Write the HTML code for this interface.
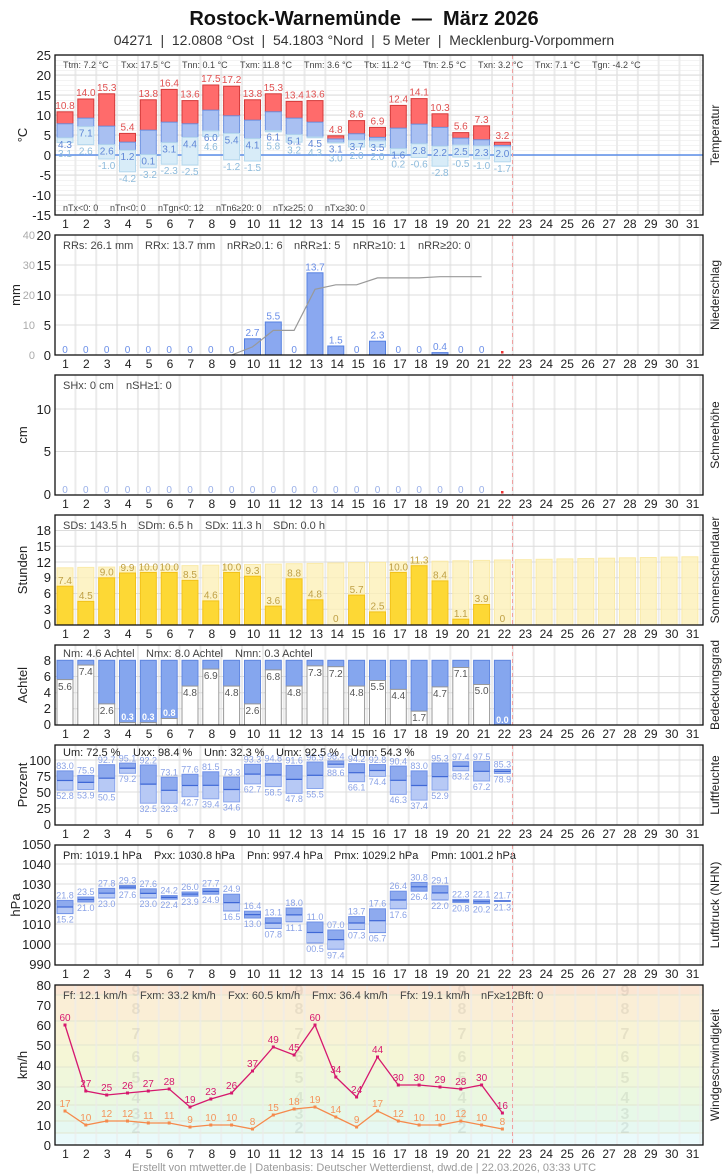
<!DOCTYPE html>
<html><head><meta charset="utf-8"><style>
body{margin:0;background:#fff;width:728px;height:1175px;position:relative;overflow:hidden;font-family:"Liberation Sans",sans-serif}
svg{position:absolute;left:0;top:0}
.days{position:absolute;left:55px;width:648px;display:flex;font-size:12px;line-height:14px;color:#222}
.days span{flex:1;text-align:center}
</style></head><body>
<svg width="728" height="1175" viewBox="0 0 728 1175" font-family="Liberation Sans, sans-serif">
<defs>
<pattern id="vg" patternUnits="userSpaceOnUse" x="53.6" y="0" width="20.83" height="20"><rect x="0" y="0" width="2" height="20" fill="#ebebeb"/></pattern>
<pattern id="hm" patternUnits="userSpaceOnUse" x="0" y="0" width="20" height="5"><rect x="0" y="0" width="20" height="1" fill="#f3f3f3"/></pattern>
</defs>
<text x="364" y="25" text-anchor="middle" font-size="20" font-weight="bold" fill="#111">Rostock-Warnemünde&#160;&#160;—&#160;&#160;März 2026</text>
<text x="364" y="45" text-anchor="middle" font-size="14" fill="#333">04271&#160;&#160;|&#160;&#160;12.0808 °Ost&#160;&#160;|&#160;&#160;54.1803 °Nord&#160;&#160;|&#160;&#160;5 Meter&#160;&#160;|&#160;&#160;Mecklenburg-Vorpommern</text>

<!-- TEMPERATURE 55-215 -->
<rect x="55" y="55" width="648" height="160" fill="url(#hm)"/>
<rect x="55" y="55" width="648" height="160" fill="url(#vg)"/>
<g stroke="#dcdcdc" stroke-width="1"><line x1="55" x2="703" y1="75" y2="75"/><line x1="55" x2="703" y1="95" y2="95"/><line x1="55" x2="703" y1="115" y2="115"/><line x1="55" x2="703" y1="135" y2="135"/><line x1="55" x2="703" y1="175" y2="175"/><line x1="55" x2="703" y1="195" y2="195"/></g>
<line x1="55" x2="703" y1="155" y2="155" stroke="#5b8de8" stroke-width="1.5"/>
<g stroke-width="1">
<g fill="#ff6b6b" stroke="#d43a3a">
<rect x="57" y="111.8" width="16" height="12"/><rect x="77.8" y="99" width="16" height="19.2"/><rect x="98.7" y="93.8" width="16" height="32.4"/><rect x="119.5" y="133.4" width="16" height="8.8"/><rect x="140.3" y="99.8" width="16" height="30.4"/><rect x="161.2" y="89.4" width="16" height="32.8"/><rect x="182" y="100.6" width="16" height="23.2"/><rect x="202.8" y="85" width="16" height="25.2"/><rect x="223.6" y="86.2" width="16" height="29.6"/><rect x="244.5" y="99.8" width="16" height="20.4"/><rect x="265.3" y="93.8" width="16" height="18"/><rect x="286.1" y="101.4" width="16" height="16.8"/><rect x="307" y="100.6" width="16" height="21.6"/><rect x="327.8" y="135.8" width="16" height="3.2"/><rect x="348.6" y="120.6" width="16" height="13.2"/><rect x="369.5" y="127.4" width="16" height="10"/><rect x="390.3" y="105.4" width="16" height="22.8"/><rect x="411.1" y="98.6" width="16" height="25.6"/><rect x="432" y="113.8" width="16" height="13.6"/><rect x="452.8" y="132.6" width="16" height="5.6"/><rect x="473.6" y="125.8" width="16" height="14"/><rect x="494.4" y="142.2" width="16" height="3.2"/>
</g>
<g fill="#a9c0f2" stroke="#6f93e0">
<rect x="57" y="123.8" width="16" height="14"/><rect x="77.8" y="118.2" width="16" height="8.4"/><rect x="98.7" y="126.2" width="16" height="18.4"/><rect x="119.5" y="142.2" width="16" height="8"/><rect x="140.3" y="130.2" width="16" height="24.4"/><rect x="161.2" y="122.2" width="16" height="20.4"/><rect x="182" y="123.8" width="16" height="13.6"/><rect x="202.8" y="110.2" width="16" height="20.8"/><rect x="223.6" y="115.8" width="16" height="17.6"/><rect x="244.5" y="120.2" width="16" height="18.4"/><rect x="265.3" y="111.8" width="16" height="18.8"/><rect x="286.1" y="118.2" width="16" height="16.4"/><rect x="307" y="122.2" width="16" height="14.8"/><rect x="327.8" y="139" width="16" height="3.6"/><rect x="348.6" y="133.8" width="16" height="6.4"/><rect x="369.5" y="137.4" width="16" height="3.6"/><rect x="390.3" y="128.2" width="16" height="20.4"/><rect x="411.1" y="124.2" width="16" height="19.6"/><rect x="432" y="127.4" width="16" height="18.8"/><rect x="452.8" y="138.2" width="16" height="6.8"/><rect x="473.6" y="139.8" width="16" height="6"/><rect x="494.4" y="145.4" width="16" height="1.6"/>
</g>
<g fill="#d8ecf8" stroke="#b5d8ee">
<rect x="57" y="137.8" width="16" height="4.8"/><rect x="77.8" y="126.6" width="16" height="18"/><rect x="98.7" y="144.6" width="16" height="14.4"/><rect x="119.5" y="150.2" width="16" height="21.6"/><rect x="140.3" y="154.6" width="16" height="13.2"/><rect x="161.2" y="142.6" width="16" height="21.6"/><rect x="182" y="137.4" width="16" height="27.6"/><rect x="202.8" y="131" width="16" height="5.6"/><rect x="223.6" y="133.4" width="16" height="26.4"/><rect x="244.5" y="138.6" width="16" height="22.4"/><rect x="265.3" y="130.6" width="16" height="1.2"/><rect x="286.1" y="134.6" width="16" height="7.6"/><rect x="307" y="137" width="16" height="0.8"/><rect x="327.8" y="142.6" width="16" height="0.4"/><rect x="348.6" y="140.2" width="16" height="6.8"/><rect x="369.5" y="141" width="16" height="6"/><rect x="390.3" y="148.6" width="16" height="5.6"/><rect x="411.1" y="143.8" width="16" height="13.6"/><rect x="432" y="146.2" width="16" height="20"/><rect x="452.8" y="145" width="16" height="12"/><rect x="473.6" y="145.8" width="16" height="13.2"/><rect x="494.4" y="147" width="16" height="14.8"/>
</g>
</g>
<g font-size="10" text-anchor="middle" fill="#e05050">
<text x="65" y="108.8">10.8</text><text x="85.8" y="96">14.0</text><text x="106.7" y="90.8">15.3</text><text x="127.5" y="130.4">5.4</text><text x="148.3" y="96.8">13.8</text><text x="169.2" y="86.4">16.4</text><text x="190" y="97.6">13.6</text><text x="210.8" y="82">17.5</text><text x="231.6" y="83.2">17.2</text><text x="252.5" y="96.8">13.8</text><text x="273.3" y="90.8">15.3</text><text x="294.1" y="98.4">13.4</text><text x="315" y="97.6">13.6</text><text x="335.8" y="132.8">4.8</text><text x="356.6" y="117.6">8.6</text><text x="377.5" y="124.4">6.9</text><text x="398.3" y="102.4">12.4</text><text x="419.1" y="95.6">14.1</text><text x="440" y="110.8">10.3</text><text x="460.8" y="129.6">5.6</text><text x="481.6" y="122.8">7.3</text><text x="502.4" y="139.2">3.2</text>
</g>
<g font-size="10" text-anchor="middle" fill="#5f86d6">
<text x="65" y="147.8">4.3</text><text x="85.8" y="136.6">7.1</text><text x="106.7" y="154.6">2.6</text><text x="127.5" y="160.2">1.2</text><text x="148.3" y="164.6">0.1</text><text x="169.2" y="152.6">3.1</text><text x="190" y="147.4">4.4</text><text x="210.8" y="141">6.0</text><text x="231.6" y="143.4">5.4</text><text x="252.5" y="148.6">4.1</text><text x="273.3" y="140.6">6.1</text><text x="294.1" y="144.6">5.1</text><text x="315" y="147">4.5</text><text x="335.8" y="152.6">3.1</text><text x="356.6" y="150.2">3.7</text><text x="377.5" y="151">3.5</text><text x="398.3" y="158.6">1.6</text><text x="419.1" y="153.8">2.8</text><text x="440" y="156.2">2.2</text><text x="460.8" y="155">2.5</text><text x="481.6" y="155.8">2.3</text><text x="502.4" y="157">2.0</text>
</g>
<g font-size="10" text-anchor="middle" fill="#8dbbdc">
<text x="65" y="156.8">3.1</text><text x="85.8" y="154.6">2.6</text><text x="106.7" y="169">-1.0</text><text x="127.5" y="181.8">-4.2</text><text x="148.3" y="177.8">-3.2</text><text x="169.2" y="174.2">-2.3</text><text x="190" y="175">-2.5</text><text x="210.8" y="150">4.6</text><text x="231.6" y="169.8">-1.2</text><text x="252.5" y="171">-1.5</text><text x="273.3" y="149.6">5.8</text><text x="294.1" y="153.6">3.2</text><text x="315" y="156">4.3</text><text x="335.8" y="161.6">3.0</text><text x="356.6" y="159.2">2.0</text><text x="377.5" y="160">2.0</text><text x="398.3" y="167.6">0.2</text><text x="419.1" y="167.4">-0.6</text><text x="440" y="176.2">-2.8</text><text x="460.8" y="167">-0.5</text><text x="481.6" y="169">-1.0</text><text x="502.4" y="171.8">-1.7</text>
</g>
<g font-size="9" fill="#444">
<text x="63" y="68">Ttm: 7.2 °C</text><text x="121" y="68">Txx: 17.5 °C</text><text x="182" y="68">Tnn: 0.1 °C</text><text x="240" y="68">Txm: 11.8 °C</text><text x="304" y="68">Tnm: 3.6 °C</text><text x="364" y="68">Ttx: 11.2 °C</text><text x="423" y="68">Ttn: 2.5 °C</text><text x="478" y="68">Txn: 3.2 °C</text><text x="535" y="68">Tnx: 7.1 °C</text><text x="592" y="68">Tgn: -4.2 °C</text>
<text x="63" y="211">nTx&lt;0: 0</text><text x="110" y="211">nTn&lt;0: 0</text><text x="158" y="211">nTgn&lt;0: 12</text><text x="216" y="211">nTn6≥20: 0</text><text x="273" y="211">nTx≥25: 0</text><text x="325" y="211">nTx≥30: 0</text>
</g>
<g font-size="13" text-anchor="end" fill="#222">
<text x="51" y="60">25</text><text x="51" y="80">20</text><text x="51" y="100">15</text><text x="51" y="120">10</text><text x="51" y="140">5</text><text x="51" y="160">0</text><text x="51" y="180">-5</text><text x="51" y="200">-10</text><text x="51" y="220">-15</text>
</g>

<!-- PRECIP 235-355 -->
<rect x="55" y="235" width="648" height="120" fill="url(#vg)"/>
<g stroke="#dcdcdc"><line x1="55" x2="703" y1="265" y2="265"/><line x1="55" x2="703" y1="295" y2="295"/><line x1="55" x2="703" y1="325" y2="325"/></g>
<g fill="#8aa8f0" stroke="#5580e0">
<rect x="244.5" y="338.8" width="16" height="16.2"/><rect x="265.3" y="322" width="16" height="33"/><rect x="307" y="272.8" width="16" height="82.2"/><rect x="327.8" y="346" width="16" height="9"/><rect x="369.5" y="341.2" width="16" height="13.8"/><rect x="432" y="352.6" width="16" height="2.4"/>
</g>
<polyline fill="none" stroke="#999" stroke-width="1.2" points="231.6,355 252.5,346.9 273.3,330.4 294.1,330.4 315,289.3 335.8,284.8 356.6,284.8 377.5,277.9 398.3,277.9 419.1,277.9 440,276.7 460.8,276.7 481.6,276.7"/>
<rect x="501" y="351" width="2.5" height="2.5" fill="#e33"/>
<g font-size="10" text-anchor="middle" fill="#6b8fe8">
<text x="65" y="353">0</text><text x="85.8" y="353">0</text><text x="106.7" y="353">0</text><text x="127.5" y="353">0</text><text x="148.3" y="353">0</text><text x="169.2" y="353">0</text><text x="190" y="353">0</text><text x="210.8" y="353">0</text><text x="231.6" y="353">0</text><text x="294.1" y="353">0</text><text x="356.6" y="353">0</text><text x="398.3" y="353">0</text><text x="419.1" y="353">0</text><text x="460.8" y="353">0</text><text x="481.6" y="353">0</text>
<text x="252.5" y="336">2.7</text><text x="273.3" y="319.5">5.5</text><text x="315" y="270.5">13.7</text><text x="335.8" y="343.5">1.5</text><text x="377.5" y="338.5">2.3</text><text x="440" y="350">0.4</text>
</g>
<g font-size="11" fill="#444"><text x="63" y="249">RRs: 26.1 mm</text><text x="145" y="249">RRx: 13.7 mm</text><text x="227" y="249">nRR≥0.1: 6</text><text x="294" y="249">nRR≥1: 5</text><text x="353" y="249">nRR≥10: 1</text><text x="418" y="249">nRR≥20: 0</text></g>
<g font-size="13" text-anchor="end" fill="#222"><text x="51" y="240">20</text><text x="51" y="270">15</text><text x="51" y="300">10</text><text x="51" y="330">5</text><text x="51" y="360">0</text></g>
<g font-size="11" text-anchor="end" fill="#aaa"><text x="35" y="239">40</text><text x="35" y="269">30</text><text x="35" y="299">20</text><text x="35" y="329">10</text><text x="35" y="359">0</text></g>

<!-- SNOW 375-495 -->
<rect x="55" y="375" width="648" height="120" fill="url(#vg)"/>
<g stroke="#dcdcdc"><line x1="55" x2="703" y1="409" y2="409"/><line x1="55" x2="703" y1="451.5" y2="451.5"/></g>
<g font-size="10" text-anchor="middle" fill="#9ab0e8">
<text x="65" y="493">0</text><text x="85.8" y="493">0</text><text x="106.7" y="493">0</text><text x="127.5" y="493">0</text><text x="148.3" y="493">0</text><text x="169.2" y="493">0</text><text x="190" y="493">0</text><text x="210.8" y="493">0</text><text x="231.6" y="493">0</text><text x="252.5" y="493">0</text><text x="273.3" y="493">0</text><text x="294.1" y="493">0</text><text x="315" y="493">0</text><text x="335.8" y="493">0</text><text x="356.6" y="493">0</text><text x="377.5" y="493">0</text><text x="398.3" y="493">0</text><text x="419.1" y="493">0</text><text x="440" y="493">0</text><text x="460.8" y="493">0</text><text x="481.6" y="493">0</text>
</g>
<rect x="501" y="491" width="2.5" height="2.5" fill="#e33"/>
<g font-size="11" fill="#444"><text x="63" y="389">SHx: 0 cm</text><text x="126" y="389">nSH≥1: 0</text></g>
<g font-size="13" text-anchor="end" fill="#222"><text x="51" y="414">10</text><text x="51" y="456">5</text><text x="51" y="499">0</text></g>

<!-- SUN 515-625 -->
<rect x="55" y="515" width="648" height="110" fill="url(#vg)"/>
<g stroke="#dcdcdc"><line x1="55" x2="703" y1="530.5" y2="530.5"/><line x1="55" x2="703" y1="546.3" y2="546.3"/><line x1="55" x2="703" y1="562" y2="562"/><line x1="55" x2="703" y1="577.8" y2="577.8"/><line x1="55" x2="703" y1="593.5" y2="593.5"/><line x1="55" x2="703" y1="609.3" y2="609.3"/></g>
<g fill="#fdf0b8" fill-opacity="0.8" stroke="#faeaa8">
<rect x="57" y="567.8" width="16" height="57.2"/><rect x="77.8" y="567.4" width="16" height="57.6"/><rect x="98.7" y="567.1" width="16" height="57.9"/><rect x="119.5" y="566.7" width="16" height="58.3"/><rect x="140.3" y="566.3" width="16" height="58.7"/><rect x="161.2" y="565.9" width="16" height="59.1"/><rect x="182" y="565.6" width="16" height="59.4"/><rect x="202.8" y="565.2" width="16" height="59.8"/><rect x="223.6" y="564.8" width="16" height="60.2"/><rect x="244.5" y="564.5" width="16" height="60.5"/><rect x="265.3" y="564.1" width="16" height="60.9"/><rect x="286.1" y="563.7" width="16" height="61.3"/><rect x="307" y="563.4" width="16" height="61.6"/><rect x="327.8" y="563" width="16" height="62"/><rect x="348.6" y="562.6" width="16" height="62.4"/><rect x="369.5" y="562.3" width="16" height="62.7"/><rect x="390.3" y="561.9" width="16" height="63.1"/><rect x="411.1" y="561.5" width="16" height="63.5"/><rect x="432" y="561.2" width="16" height="63.8"/><rect x="452.8" y="560.8" width="16" height="64.2"/><rect x="473.6" y="560.4" width="16" height="64.6"/><rect x="494.4" y="560" width="16" height="65"/><rect x="515.3" y="559.7" width="16" height="65.3"/><rect x="536.1" y="559.3" width="16" height="65.7"/><rect x="556.9" y="558.9" width="16" height="66.1"/><rect x="577.8" y="558.6" width="16" height="66.4"/><rect x="598.6" y="558.2" width="16" height="66.8"/><rect x="619.4" y="557.8" width="16" height="67.2"/><rect x="640.3" y="557.5" width="16" height="67.5"/><rect x="661.1" y="557.1" width="16" height="67.9"/><rect x="681.9" y="556.8" width="16" height="68.2"/>
</g>
<g fill="#fdd835" stroke="#f2c21a">
<rect x="57" y="586.2" width="16" height="38.8"/><rect x="77.8" y="601.4" width="16" height="23.6"/><rect x="98.7" y="577.8" width="16" height="47.2"/><rect x="119.5" y="573" width="16" height="52"/><rect x="140.3" y="572.5" width="16" height="52.5"/><rect x="161.2" y="572.5" width="16" height="52.5"/><rect x="182" y="580.4" width="16" height="44.6"/><rect x="202.8" y="600.9" width="16" height="24.1"/><rect x="223.6" y="572.5" width="16" height="52.5"/><rect x="244.5" y="576.2" width="16" height="48.8"/><rect x="265.3" y="606.1" width="16" height="18.9"/><rect x="286.1" y="578.8" width="16" height="46.2"/><rect x="307" y="599.8" width="16" height="25.2"/><rect x="348.6" y="595.1" width="16" height="29.9"/><rect x="369.5" y="611.9" width="16" height="13.1"/><rect x="390.3" y="572.5" width="16" height="52.5"/><rect x="411.1" y="565.7" width="16" height="59.3"/><rect x="432" y="580.9" width="16" height="44.1"/><rect x="452.8" y="619.2" width="16" height="5.8"/><rect x="473.6" y="604.5" width="16" height="20.5"/>
</g>
<g font-size="10" text-anchor="middle" fill="#bfa045">
<text x="65" y="584">7.4</text><text x="85.8" y="599">4.5</text><text x="106.7" y="575.5">9.0</text><text x="127.5" y="571">9.9</text><text x="148.3" y="570.5">10.0</text><text x="169.2" y="570.5">10.0</text><text x="190" y="578">8.5</text><text x="210.8" y="598.5">4.6</text><text x="231.6" y="570.5">10.0</text><text x="252.5" y="574">9.3</text><text x="273.3" y="604">3.6</text><text x="294.1" y="576.5">8.8</text><text x="315" y="597.5">4.8</text><text x="335.8" y="622">0</text><text x="356.6" y="593">5.7</text><text x="377.5" y="609.5">2.5</text><text x="398.3" y="570.5">10.0</text><text x="419.1" y="563.5">11.3</text><text x="440" y="578.5">8.4</text><text x="460.8" y="617">1.1</text><text x="481.6" y="602">3.9</text><text x="502.4" y="622">0</text>
</g>
<g font-size="11" fill="#444"><text x="63" y="529">SDs: 143.5 h</text><text x="138" y="529">SDm: 6.5 h</text><text x="205" y="529">SDx: 11.3 h</text><text x="273" y="529">SDn: 0.0 h</text></g>
<g font-size="13" text-anchor="end" fill="#222"><text x="51" y="535">18</text><text x="51" y="551">15</text><text x="51" y="567">12</text><text x="51" y="582">9</text><text x="51" y="598">6</text><text x="51" y="614">3</text><text x="51" y="629">0</text></g>

<!-- CLOUD 645-725 -->
<rect x="55" y="645" width="648" height="80" fill="url(#vg)"/>
<g stroke="#dcdcdc"><line x1="55" x2="703" y1="676.5" y2="676.5"/><line x1="55" x2="703" y1="692.7" y2="692.7"/><line x1="55" x2="703" y1="708.8" y2="708.8"/></g>
<g fill="#85a6ee" stroke="#5f86e0">
<rect x="57" y="660.3" width="16" height="19.3"/><rect x="77.8" y="660.3" width="16" height="4.8"/><rect x="98.7" y="660.3" width="16" height="43.6"/><rect x="119.5" y="660.3" width="16" height="62.3"/><rect x="140.3" y="660.3" width="16" height="62.3"/><rect x="161.2" y="660.3" width="16" height="58.2"/><rect x="182" y="660.3" width="16" height="25.8"/><rect x="202.8" y="660.3" width="16" height="8.8"/><rect x="223.6" y="660.3" width="16" height="25.8"/><rect x="244.5" y="660.3" width="16" height="43.6"/><rect x="265.3" y="660.3" width="16" height="9.6"/><rect x="286.1" y="660.3" width="16" height="25.8"/><rect x="307" y="660.3" width="16" height="5.6"/><rect x="327.8" y="660.3" width="16" height="6.4"/><rect x="348.6" y="660.3" width="16" height="25.8"/><rect x="369.5" y="660.3" width="16" height="20.2"/><rect x="390.3" y="660.3" width="16" height="29.1"/><rect x="411.1" y="660.3" width="16" height="50.9"/><rect x="432" y="660.3" width="16" height="26.6"/><rect x="452.8" y="660.3" width="16" height="7.2"/><rect x="473.6" y="660.3" width="16" height="24.2"/><rect x="494.4" y="660.3" width="16" height="64.7"/>
</g>
<g fill="#fff" stroke="#999">
<rect x="57" y="679.6" width="16" height="45.4"/><rect x="77.8" y="665.1" width="16" height="59.9"/><rect x="98.7" y="703.9" width="16" height="21.1"/><rect x="119.5" y="722.6" width="16" height="2.4"/><rect x="140.3" y="722.6" width="16" height="2.4"/><rect x="161.2" y="718.5" width="16" height="6.5"/><rect x="182" y="686.1" width="16" height="38.9"/><rect x="202.8" y="669.1" width="16" height="55.9"/><rect x="223.6" y="686.1" width="16" height="38.9"/><rect x="244.5" y="703.9" width="16" height="21.1"/><rect x="265.3" y="669.9" width="16" height="55.1"/><rect x="286.1" y="686.1" width="16" height="38.9"/><rect x="307" y="665.9" width="16" height="59.1"/><rect x="327.8" y="666.7" width="16" height="58.3"/><rect x="348.6" y="686.1" width="16" height="38.9"/><rect x="369.5" y="680.5" width="16" height="44.5"/><rect x="390.3" y="689.4" width="16" height="35.6"/><rect x="411.1" y="711.2" width="16" height="13.8"/><rect x="432" y="686.9" width="16" height="38.1"/><rect x="452.8" y="667.5" width="16" height="57.5"/><rect x="473.6" y="684.5" width="16" height="40.5"/>
</g>
<g font-size="10" text-anchor="middle" fill="#555">
<text x="65" y="690">5.6</text><text x="85.8" y="675">7.4</text><text x="106.7" y="714">2.6</text><text x="190" y="696">4.8</text><text x="210.8" y="679">6.9</text><text x="231.6" y="696">4.8</text><text x="252.5" y="714">2.6</text><text x="273.3" y="680">6.8</text><text x="294.1" y="696">4.8</text><text x="315" y="676">7.3</text><text x="335.8" y="677">7.2</text><text x="356.6" y="696">4.8</text><text x="377.5" y="690">5.5</text><text x="398.3" y="699">4.4</text><text x="419.1" y="721">1.7</text><text x="440" y="697">4.7</text><text x="460.8" y="677">7.1</text><text x="481.6" y="694">5.0</text>
</g>
<g font-size="9" font-weight="bold" text-anchor="middle" fill="#fff"><text x="127.5" y="720">0.3</text><text x="148.3" y="720">0.3</text><text x="169.2" y="716">0.8</text><text x="502.4" y="723">0.0</text></g>
<g font-size="11" fill="#444"><text x="63" y="657">Nm: 4.6 Achtel</text><text x="146" y="657">Nmx: 8.0 Achtel</text><text x="235" y="657">Nmn: 0.3 Achtel</text></g>
<g font-size="13" text-anchor="end" fill="#222"><text x="51" y="665">8</text><text x="51" y="681">6</text><text x="51" y="697">4</text><text x="51" y="713">2</text><text x="51" y="729">0</text></g>

<!-- HUMIDITY 745-825 -->
<rect x="55" y="745" width="648" height="80" fill="url(#vg)"/>
<g stroke="#dcdcdc"><line x1="55" x2="703" y1="760" y2="760"/><line x1="55" x2="703" y1="776" y2="776"/><line x1="55" x2="703" y1="792" y2="792"/><line x1="55" x2="703" y1="808" y2="808"/></g>
<g fill="#8eaaee" stroke="#6f90e6">
<rect x="57" y="770.9" width="16" height="9.6"/><rect x="77.8" y="775.4" width="16" height="7"/><rect x="98.7" y="764.7" width="16" height="13.5"/><rect x="119.5" y="763.1" width="16" height="5.1"/><rect x="140.3" y="765" width="16" height="19.1"/><rect x="161.2" y="777.2" width="16" height="13.1"/><rect x="182" y="774.3" width="16" height="11.2"/><rect x="202.8" y="771.8" width="16" height="13.5"/><rect x="223.6" y="777.1" width="16" height="12.4"/><rect x="244.5" y="764.3" width="16" height="9.8"/><rect x="265.3" y="763.3" width="16" height="11.7"/><rect x="286.1" y="765.4" width="16" height="14"/><rect x="307" y="762" width="16" height="13.3"/><rect x="327.8" y="761" width="16" height="3.2"/><rect x="348.6" y="763.7" width="16" height="9"/><rect x="369.5" y="764.6" width="16" height="5.9"/><rect x="390.3" y="766.1" width="16" height="14.2"/><rect x="411.1" y="770.9" width="16" height="14.6"/><rect x="432" y="763" width="16" height="13.6"/><rect x="452.8" y="761.7" width="16" height="4.6"/><rect x="473.6" y="761.6" width="16" height="9.7"/><rect x="494.4" y="769.4" width="16" height="2.1"/>
</g>
<g fill="#b7c9f5" stroke="#8aa6ec">
<rect x="57" y="780.5" width="16" height="9.7"/><rect x="77.8" y="782.4" width="16" height="7.1"/><rect x="98.7" y="778.2" width="16" height="13.5"/><rect x="119.5" y="768.2" width="16" height="5.1"/><rect x="140.3" y="784.1" width="16" height="19.1"/><rect x="161.2" y="790.3" width="16" height="13"/><rect x="182" y="785.5" width="16" height="11.2"/><rect x="202.8" y="785.3" width="16" height="13.5"/><rect x="223.6" y="789.5" width="16" height="12.4"/><rect x="244.5" y="774.1" width="16" height="9.8"/><rect x="265.3" y="775" width="16" height="11.6"/><rect x="286.1" y="779.4" width="16" height="14"/><rect x="307" y="775.3" width="16" height="13.2"/><rect x="327.8" y="764.2" width="16" height="3.1"/><rect x="348.6" y="772.7" width="16" height="9"/><rect x="369.5" y="770.5" width="16" height="5.9"/><rect x="390.3" y="780.3" width="16" height="14.1"/><rect x="411.1" y="785.5" width="16" height="14.6"/><rect x="432" y="776.6" width="16" height="13.5"/><rect x="452.8" y="766.3" width="16" height="4.5"/><rect x="473.6" y="771.3" width="16" height="9.7"/><rect x="494.4" y="771.5" width="16" height="2"/>
</g>
<g stroke="#3f68d6" stroke-width="1.2">
<line x1="57" x2="73" y1="780.5" y2="780.5"/><line x1="77.8" x2="93.8" y1="782.4" y2="782.4"/><line x1="98.7" x2="114.7" y1="778.2" y2="778.2"/><line x1="119.5" x2="135.5" y1="768.2" y2="768.2"/><line x1="140.3" x2="156.3" y1="784.1" y2="784.1"/><line x1="161.2" x2="177.2" y1="790.3" y2="790.3"/><line x1="182" x2="198" y1="785.5" y2="785.5"/><line x1="202.8" x2="218.8" y1="785.3" y2="785.3"/><line x1="223.6" x2="239.6" y1="789.5" y2="789.5"/><line x1="244.5" x2="260.5" y1="774.1" y2="774.1"/><line x1="265.3" x2="281.3" y1="775" y2="775"/><line x1="286.1" x2="302.1" y1="779.4" y2="779.4"/><line x1="307" x2="323" y1="775.3" y2="775.3"/><line x1="327.8" x2="343.8" y1="764.2" y2="764.2"/><line x1="348.6" x2="364.6" y1="772.7" y2="772.7"/><line x1="369.5" x2="385.5" y1="770.5" y2="770.5"/><line x1="390.3" x2="406.3" y1="780.3" y2="780.3"/><line x1="411.1" x2="427.1" y1="785.5" y2="785.5"/><line x1="432" x2="448" y1="776.6" y2="776.6"/><line x1="452.8" x2="468.8" y1="766.3" y2="766.3"/><line x1="473.6" x2="489.6" y1="771.3" y2="771.3"/><line x1="494.4" x2="510.4" y1="771.5" y2="771.5"/>
</g>
<g font-size="9" text-anchor="middle" fill="#8aa2e6">
<text x="65" y="769">83.0</text><text x="85.8" y="773.5">75.9</text><text x="106.7" y="763">92.7</text><text x="127.5" y="761.5">95.1</text><text x="148.3" y="763.5">92.2</text><text x="169.2" y="775.5">73.1</text><text x="190" y="772.5">77.6</text><text x="210.8" y="770">81.5</text><text x="231.6" y="775.5">73.3</text><text x="252.5" y="762.5">93.3</text><text x="273.3" y="761.5">94.8</text><text x="294.1" y="763.5">91.6</text><text x="315" y="760.5">96.9</text><text x="335.8" y="759.5">98.4</text><text x="356.6" y="762">94.2</text><text x="377.5" y="763">92.8</text><text x="398.3" y="764.5">90.4</text><text x="419.1" y="769">83.0</text><text x="440" y="761.5">95.3</text><text x="460.8" y="760">97.4</text><text x="481.6" y="760">97.5</text><text x="502.4" y="767.5">85.3</text>
<text x="65" y="799">52.8</text><text x="85.8" y="798.5">53.9</text><text x="106.7" y="800.5">50.5</text><text x="127.5" y="782">79.2</text><text x="148.3" y="812">32.5</text><text x="169.2" y="812">32.3</text><text x="190" y="805.5">42.7</text><text x="210.8" y="807.5">39.4</text><text x="231.6" y="810.5">34.6</text><text x="252.5" y="792.5">62.7</text><text x="273.3" y="795.5">58.5</text><text x="294.1" y="802">47.8</text><text x="315" y="797.5">55.5</text><text x="335.8" y="776">88.6</text><text x="356.6" y="790.5">66.1</text><text x="377.5" y="785">74.4</text><text x="398.3" y="803">46.3</text><text x="419.1" y="809">37.4</text><text x="440" y="799">52.9</text><text x="460.8" y="779.5">83.2</text><text x="481.6" y="790">67.2</text><text x="502.4" y="782.5">78.9</text>
</g>
<g font-size="11" fill="#222"><text x="63" y="756">Um: 72.5 %</text><text x="133" y="756">Uxx: 98.4 %</text><text x="204" y="756">Unn: 32.3 %</text><text x="276" y="756">Umx: 92.5 %</text><text x="351" y="756">Umn: 54.3 %</text></g>
<g font-size="13" text-anchor="end" fill="#222"><text x="51" y="765">100</text><text x="51" y="781">75</text><text x="51" y="797">50</text><text x="51" y="813">25</text><text x="51" y="829">0</text></g>

<!-- PRESSURE 845-965 -->
<rect x="55" y="845" width="648" height="120" fill="url(#vg)"/>
<g stroke="#dcdcdc"><line x1="55" x2="703" y1="864" y2="864"/><line x1="55" x2="703" y1="884" y2="884"/><line x1="55" x2="703" y1="904" y2="904"/><line x1="55" x2="703" y1="924" y2="924"/><line x1="55" x2="703" y1="944" y2="944"/></g>
<g fill="#8eaaee" stroke="#6f90e6">
<rect x="57" y="900.4" width="16" height="13.2"/><rect x="77.8" y="897" width="16" height="5"/><rect x="98.7" y="888.4" width="16" height="9.6"/><rect x="119.5" y="885.4" width="16" height="3.4"/><rect x="140.3" y="888.8" width="16" height="9.2"/><rect x="161.2" y="895.6" width="16" height="3.6"/><rect x="182" y="892" width="16" height="4.2"/><rect x="202.8" y="888.6" width="16" height="5.6"/><rect x="223.6" y="894.2" width="16" height="16.8"/><rect x="244.5" y="911.2" width="16" height="6.8"/><rect x="265.3" y="917.8" width="16" height="10.6"/><rect x="286.1" y="908" width="16" height="13.8"/><rect x="307" y="922" width="16" height="21"/><rect x="327.8" y="930" width="16" height="19.2"/><rect x="348.6" y="916.6" width="16" height="12.8"/><rect x="369.5" y="908.8" width="16" height="23.8"/><rect x="390.3" y="891.2" width="16" height="17.6"/><rect x="411.1" y="882.4" width="16" height="8.8"/><rect x="432" y="885.8" width="16" height="14.2"/><rect x="452.8" y="899.4" width="16" height="3"/><rect x="473.6" y="899.8" width="16" height="3.8"/><rect x="494.4" y="900.6" width="16" height="0.8"/>
</g>
<g fill="#b7c9f5" stroke="none">
<rect x="57.5" y="907" width="15" height="6.1"/><rect x="98.7" y="893.2" width="16" height="4.3"/><rect x="140.3" y="893.4" width="16" height="4.1"/><rect x="223.6" y="902.6" width="16" height="7.9"/><rect x="265.3" y="923.1" width="16" height="4.8"/><rect x="286.1" y="914.9" width="16" height="6.4"/><rect x="307" y="932.5" width="16" height="10"/><rect x="327.8" y="939.6" width="16" height="9.1"/><rect x="348.6" y="923" width="16" height="6"/><rect x="369.5" y="920.7" width="16" height="11.4"/><rect x="390.3" y="900" width="16" height="8.3"/><rect x="432" y="892.9" width="16" height="6.6"/>
</g>
<g stroke="#3f68d6" stroke-width="1.2">
<line x1="57" x2="73" y1="907" y2="907"/><line x1="77.8" x2="93.8" y1="899.5" y2="899.5"/><line x1="98.7" x2="114.7" y1="893.2" y2="893.2"/><line x1="119.5" x2="135.5" y1="887.1" y2="887.1"/><line x1="140.3" x2="156.3" y1="893.4" y2="893.4"/><line x1="161.2" x2="177.2" y1="897.4" y2="897.4"/><line x1="182" x2="198" y1="894.1" y2="894.1"/><line x1="202.8" x2="218.8" y1="891.4" y2="891.4"/><line x1="223.6" x2="239.6" y1="902.6" y2="902.6"/><line x1="244.5" x2="260.5" y1="914.6" y2="914.6"/><line x1="265.3" x2="281.3" y1="923.1" y2="923.1"/><line x1="286.1" x2="302.1" y1="914.9" y2="914.9"/><line x1="307" x2="323" y1="932.5" y2="932.5"/><line x1="327.8" x2="343.8" y1="939.6" y2="939.6"/><line x1="348.6" x2="364.6" y1="923" y2="923"/><line x1="369.5" x2="385.5" y1="920.7" y2="920.7"/><line x1="390.3" x2="406.3" y1="900" y2="900"/><line x1="411.1" x2="427.1" y1="886.8" y2="886.8"/><line x1="432" x2="448" y1="892.9" y2="892.9"/><line x1="452.8" x2="468.8" y1="900.9" y2="900.9"/><line x1="473.6" x2="489.6" y1="901.7" y2="901.7"/><line x1="494.4" x2="510.4" y1="901" y2="901"/>
</g>
<g font-size="9" text-anchor="middle" fill="#8aa2e6">
<text x="65" y="898.5">21.8</text><text x="85.8" y="895">23.5</text><text x="106.7" y="886.5">27.8</text><text x="127.5" y="883.5">29.3</text><text x="148.3" y="887">27.6</text><text x="169.2" y="893.5">24.2</text><text x="190" y="890">26.0</text><text x="210.8" y="886.5">27.7</text><text x="231.6" y="892">24.9</text><text x="252.5" y="909">16.4</text><text x="273.3" y="915.5">13.1</text><text x="294.1" y="906">18.0</text><text x="315" y="920">11.0</text><text x="335.8" y="928">07.0</text><text x="356.6" y="914.5">13.7</text><text x="377.5" y="906.5">17.6</text><text x="398.3" y="889">26.4</text><text x="419.1" y="880.5">30.8</text><text x="440" y="883.5">29.1</text><text x="460.8" y="897.5">22.3</text><text x="481.6" y="897.5">22.1</text><text x="502.4" y="898.5">21.7</text>
<text x="65" y="922.5">15.2</text><text x="85.8" y="911">21.0</text><text x="106.7" y="907">23.0</text><text x="127.5" y="898">27.6</text><text x="148.3" y="907">23.0</text><text x="169.2" y="908">22.4</text><text x="190" y="905">23.9</text><text x="210.8" y="903">24.9</text><text x="231.6" y="920">16.5</text><text x="252.5" y="927">13.0</text><text x="273.3" y="937.5">07.8</text><text x="294.1" y="931">11.1</text><text x="315" y="952">00.5</text><text x="335.8" y="958.5">97.4</text><text x="356.6" y="938.5">07.3</text><text x="377.5" y="941.5">05.7</text><text x="398.3" y="918">17.6</text><text x="419.1" y="900">26.4</text><text x="440" y="909">22.0</text><text x="460.8" y="911.5">20.8</text><text x="481.6" y="912.5">20.2</text><text x="502.4" y="910.5">21.3</text>
</g>
<g font-size="11" fill="#222"><text x="63" y="859">Pm: 1019.1 hPa</text><text x="154" y="859">Pxx: 1030.8 hPa</text><text x="247" y="859">Pnn: 997.4 hPa</text><text x="334" y="859">Pmx: 1029.2 hPa</text><text x="431" y="859">Pmn: 1001.2 hPa</text></g>
<g font-size="13" text-anchor="end" fill="#222"><text x="51" y="849">1050</text><text x="51" y="869">1040</text><text x="51" y="889">1030</text><text x="51" y="909">1020</text><text x="51" y="929">1010</text><text x="51" y="949">1000</text><text x="51" y="969">990</text></g>

<!-- WIND 985-1145 -->
<rect x="55" y="985" width="648" height="10" fill="#fbe6d3"/>
<rect x="55" y="995" width="648" height="26" fill="#faeed6"/>
<rect x="55" y="1021" width="648" height="24" fill="#f8f3d6"/>
<rect x="55" y="1045" width="648" height="22" fill="#f5f6d6"/>
<rect x="55" y="1067" width="648" height="20" fill="#f0f7db"/>
<rect x="55" y="1087" width="648" height="18" fill="#ebf8e0"/>
<rect x="55" y="1105" width="648" height="16" fill="#e7f8e8"/>
<rect x="55" y="1121" width="648" height="12" fill="#e6f8f1"/>
<rect x="55" y="1133" width="648" height="10" fill="#eafafb"/>
<rect x="55" y="1143" width="648" height="2" fill="#effcff"/>
<g stroke="#e2e6d0" stroke-width="1"><line x1="55" x2="703" y1="995" y2="995"/><line x1="55" x2="703" y1="1021" y2="1021"/><line x1="55" x2="703" y1="1045" y2="1045"/><line x1="55" x2="703" y1="1067" y2="1067"/><line x1="55" x2="703" y1="1087" y2="1087"/><line x1="55" x2="703" y1="1105" y2="1105"/><line x1="55" x2="703" y1="1121" y2="1121"/><line x1="55" x2="703" y1="1133" y2="1133"/></g>
<rect x="55" y="985" width="648" height="160" fill="url(#vg)" opacity="0.6"/>
<g font-size="16" font-weight="bold" text-anchor="middle" fill="#000" fill-opacity="0.07">
<text x="136" y="996">9</text><text x="136" y="1014">8</text><text x="136" y="1039">7</text><text x="136" y="1062">6</text><text x="136" y="1083">5</text><text x="136" y="1103">4</text><text x="136" y="1119">3</text><text x="136" y="1133">2</text>
<text x="299" y="996">9</text><text x="299" y="1014">8</text><text x="299" y="1039">7</text><text x="299" y="1062">6</text><text x="299" y="1083">5</text><text x="299" y="1103">4</text><text x="299" y="1119">3</text><text x="299" y="1133">2</text>
<text x="462" y="996">9</text><text x="462" y="1014">8</text><text x="462" y="1039">7</text><text x="462" y="1062">6</text><text x="462" y="1083">5</text><text x="462" y="1103">4</text><text x="462" y="1119">3</text><text x="462" y="1133">2</text>
<text x="625" y="996">9</text><text x="625" y="1014">8</text><text x="625" y="1039">7</text><text x="625" y="1062">6</text><text x="625" y="1083">5</text><text x="625" y="1103">4</text><text x="625" y="1119">3</text><text x="625" y="1133">2</text>
</g>
<polyline fill="none" stroke="#d6186e" stroke-width="1.3" points="65,1025 85.8,1091 106.7,1095 127.5,1093 148.3,1091 169.2,1089 190,1107 210.8,1099 231.6,1093 252.5,1071 273.3,1047 294.1,1055 315,1025 335.8,1077 356.6,1097 377.5,1057 398.3,1085 419.1,1085 440,1087 460.8,1089 481.6,1085 502.4,1113"/>
<polyline fill="none" stroke="#f58a4c" stroke-width="1.3" points="65,1111 85.8,1125 106.7,1121 127.5,1121 148.3,1123 169.2,1123 190,1127 210.8,1125 231.6,1125 252.5,1129 273.3,1115 294.1,1109 315,1107 335.8,1117 356.6,1127 377.5,1111 398.3,1121 419.1,1125 440,1125 460.8,1121 481.6,1125 502.4,1129"/>
<g fill="#d6186e">
<rect x="63.5" y="1023.5" width="3" height="3"/><rect x="84.3" y="1089.5" width="3" height="3"/><rect x="105.2" y="1093.5" width="3" height="3"/><rect x="126" y="1091.5" width="3" height="3"/><rect x="146.8" y="1089.5" width="3" height="3"/><rect x="167.7" y="1087.5" width="3" height="3"/><rect x="188.5" y="1105.5" width="3" height="3"/><rect x="209.3" y="1097.5" width="3" height="3"/><rect x="230.1" y="1091.5" width="3" height="3"/><rect x="251" y="1069.5" width="3" height="3"/><rect x="271.8" y="1045.5" width="3" height="3"/><rect x="292.6" y="1053.5" width="3" height="3"/><rect x="313.5" y="1023.5" width="3" height="3"/><rect x="334.3" y="1075.5" width="3" height="3"/><rect x="355.1" y="1095.5" width="3" height="3"/><rect x="376" y="1055.5" width="3" height="3"/><rect x="396.8" y="1083.5" width="3" height="3"/><rect x="417.6" y="1083.5" width="3" height="3"/><rect x="438.5" y="1085.5" width="3" height="3"/><rect x="459.3" y="1087.5" width="3" height="3"/><rect x="480.1" y="1083.5" width="3" height="3"/><rect x="500.9" y="1111.5" width="3" height="3"/>
</g>
<g fill="#f58a4c">
<rect x="63.5" y="1109.5" width="3" height="3"/><rect x="84.3" y="1123.5" width="3" height="3"/><rect x="105.2" y="1119.5" width="3" height="3"/><rect x="126" y="1119.5" width="3" height="3"/><rect x="146.8" y="1121.5" width="3" height="3"/><rect x="167.7" y="1121.5" width="3" height="3"/><rect x="188.5" y="1125.5" width="3" height="3"/><rect x="209.3" y="1123.5" width="3" height="3"/><rect x="230.1" y="1123.5" width="3" height="3"/><rect x="251" y="1127.5" width="3" height="3"/><rect x="271.8" y="1113.5" width="3" height="3"/><rect x="292.6" y="1107.5" width="3" height="3"/><rect x="313.5" y="1105.5" width="3" height="3"/><rect x="334.3" y="1115.5" width="3" height="3"/><rect x="355.1" y="1125.5" width="3" height="3"/><rect x="376" y="1109.5" width="3" height="3"/><rect x="396.8" y="1119.5" width="3" height="3"/><rect x="417.6" y="1123.5" width="3" height="3"/><rect x="438.5" y="1123.5" width="3" height="3"/><rect x="459.3" y="1119.5" width="3" height="3"/><rect x="480.1" y="1123.5" width="3" height="3"/><rect x="500.9" y="1127.5" width="3" height="3"/>
</g>
<g font-size="10" text-anchor="middle" fill="#d6186e">
<text x="65" y="1021">60</text><text x="85.8" y="1087">27</text><text x="106.7" y="1091">25</text><text x="127.5" y="1089">26</text><text x="148.3" y="1087">27</text><text x="169.2" y="1085">28</text><text x="190" y="1103">19</text><text x="210.8" y="1095">23</text><text x="231.6" y="1089">26</text><text x="252.5" y="1067">37</text><text x="273.3" y="1043">49</text><text x="294.1" y="1051">45</text><text x="315" y="1021">60</text><text x="335.8" y="1073">34</text><text x="356.6" y="1093">24</text><text x="377.5" y="1053">44</text><text x="398.3" y="1081">30</text><text x="419.1" y="1081">30</text><text x="440" y="1083">29</text><text x="460.8" y="1085">28</text><text x="481.6" y="1081">30</text><text x="502.4" y="1109">16</text>
</g>
<g font-size="10" text-anchor="middle" fill="#f5935a">
<text x="65" y="1107">17</text><text x="85.8" y="1121">10</text><text x="106.7" y="1117">12</text><text x="127.5" y="1117">12</text><text x="148.3" y="1119">11</text><text x="169.2" y="1119">11</text><text x="190" y="1123">9</text><text x="210.8" y="1121">10</text><text x="231.6" y="1121">10</text><text x="252.5" y="1125">8</text><text x="273.3" y="1111">15</text><text x="294.1" y="1105">18</text><text x="315" y="1103">19</text><text x="335.8" y="1113">14</text><text x="356.6" y="1123">9</text><text x="377.5" y="1107">17</text><text x="398.3" y="1117">12</text><text x="419.1" y="1121">10</text><text x="440" y="1121">10</text><text x="460.8" y="1117">12</text><text x="481.6" y="1121">10</text><text x="502.4" y="1125">8</text>
</g>
<g font-size="11" fill="#444"><text x="63" y="999">Ff: 12.1 km/h</text><text x="140" y="999">Fxm: 33.2 km/h</text><text x="228" y="999">Fxx: 60.5 km/h</text><text x="312" y="999">Fmx: 36.4 km/h</text><text x="400" y="999">Ffx: 19.1 km/h</text><text x="481" y="999">nFx≥12Bft: 0</text></g>
<g font-size="13" text-anchor="end" fill="#222"><text x="51" y="990">80</text><text x="51" y="1010">70</text><text x="51" y="1030">60</text><text x="51" y="1050">50</text><text x="51" y="1070">40</text><text x="51" y="1090">30</text><text x="51" y="1110">20</text><text x="51" y="1130">10</text><text x="51" y="1150">0</text></g>

<!-- red dashed now-lines and borders -->
<g stroke="#f0a0a0" stroke-dasharray="4,3" stroke-width="1">
<line x1="512.5" x2="512.5" y1="55" y2="215"/><line x1="512.5" x2="512.5" y1="235" y2="355"/><line x1="512.5" x2="512.5" y1="375" y2="495"/><line x1="512.5" x2="512.5" y1="515" y2="625"/><line x1="512.5" x2="512.5" y1="645" y2="725"/><line x1="512.5" x2="512.5" y1="745" y2="825"/><line x1="512.5" x2="512.5" y1="845" y2="965"/><line x1="512.5" x2="512.5" y1="985" y2="1145"/>
</g>
<g fill="none" stroke="#111" stroke-width="1.3">
<rect x="55" y="55" width="648" height="160"/><rect x="55" y="235" width="648" height="120"/><rect x="55" y="375" width="648" height="120"/><rect x="55" y="515" width="648" height="110"/><rect x="55" y="645" width="648" height="80"/><rect x="55" y="745" width="648" height="80"/><rect x="55" y="845" width="648" height="120"/><rect x="55" y="985" width="648" height="160"/>
</g>

<!-- axis titles -->
<g font-size="13" fill="#222" text-anchor="middle">
<text transform="translate(27,135) rotate(-90)">°C</text>
<text transform="translate(20,295) rotate(-90)">mm</text>
<text transform="translate(27,435) rotate(-90)">cm</text>
<text transform="translate(27,570) rotate(-90)">Stunden</text>
<text transform="translate(27,685) rotate(-90)">Achtel</text>
<text transform="translate(27,785) rotate(-90)">Prozent</text>
<text transform="translate(20,905) rotate(-90)">hPa</text>
<text transform="translate(27,1065) rotate(-90)">km/h</text>
</g>
<g font-size="12" fill="#222" text-anchor="middle">
<text transform="translate(719,135) rotate(-90)">Temperatur</text>
<text transform="translate(719,295) rotate(-90)">Niederschlag</text>
<text transform="translate(719,435) rotate(-90)">Schneehöhe</text>
<text transform="translate(719,570) rotate(-90)">Sonnenscheindauer</text>
<text transform="translate(719,685) rotate(-90)">Bedeckungsgrad</text>
<text transform="translate(719,785) rotate(-90)">Luftfeuchte</text>
<text transform="translate(719,905) rotate(-90)">Luftdruck (NHN)</text>
<text transform="translate(719,1065) rotate(-90)">Windgeschwindigkeit</text>
</g>
<text x="364" y="1171" text-anchor="middle" font-size="11" fill="#999">Erstellt von mtwetter.de | Datenbasis: Deutscher Wetterdienst, dwd.de | 22.03.2026, 03:33 UTC</text>
</svg>

<div class="days" style="top:217px"><span>1</span><span>2</span><span>3</span><span>4</span><span>5</span><span>6</span><span>7</span><span>8</span><span>9</span><span>10</span><span>11</span><span>12</span><span>13</span><span>14</span><span>15</span><span>16</span><span>17</span><span>18</span><span>19</span><span>20</span><span>21</span><span>22</span><span>23</span><span>24</span><span>25</span><span>26</span><span>27</span><span>28</span><span>29</span><span>30</span><span>31</span></div>
<div class="days" style="top:357px"><span>1</span><span>2</span><span>3</span><span>4</span><span>5</span><span>6</span><span>7</span><span>8</span><span>9</span><span>10</span><span>11</span><span>12</span><span>13</span><span>14</span><span>15</span><span>16</span><span>17</span><span>18</span><span>19</span><span>20</span><span>21</span><span>22</span><span>23</span><span>24</span><span>25</span><span>26</span><span>27</span><span>28</span><span>29</span><span>30</span><span>31</span></div>
<div class="days" style="top:497px"><span>1</span><span>2</span><span>3</span><span>4</span><span>5</span><span>6</span><span>7</span><span>8</span><span>9</span><span>10</span><span>11</span><span>12</span><span>13</span><span>14</span><span>15</span><span>16</span><span>17</span><span>18</span><span>19</span><span>20</span><span>21</span><span>22</span><span>23</span><span>24</span><span>25</span><span>26</span><span>27</span><span>28</span><span>29</span><span>30</span><span>31</span></div>
<div class="days" style="top:627px"><span>1</span><span>2</span><span>3</span><span>4</span><span>5</span><span>6</span><span>7</span><span>8</span><span>9</span><span>10</span><span>11</span><span>12</span><span>13</span><span>14</span><span>15</span><span>16</span><span>17</span><span>18</span><span>19</span><span>20</span><span>21</span><span>22</span><span>23</span><span>24</span><span>25</span><span>26</span><span>27</span><span>28</span><span>29</span><span>30</span><span>31</span></div>
<div class="days" style="top:727px"><span>1</span><span>2</span><span>3</span><span>4</span><span>5</span><span>6</span><span>7</span><span>8</span><span>9</span><span>10</span><span>11</span><span>12</span><span>13</span><span>14</span><span>15</span><span>16</span><span>17</span><span>18</span><span>19</span><span>20</span><span>21</span><span>22</span><span>23</span><span>24</span><span>25</span><span>26</span><span>27</span><span>28</span><span>29</span><span>30</span><span>31</span></div>
<div class="days" style="top:827px"><span>1</span><span>2</span><span>3</span><span>4</span><span>5</span><span>6</span><span>7</span><span>8</span><span>9</span><span>10</span><span>11</span><span>12</span><span>13</span><span>14</span><span>15</span><span>16</span><span>17</span><span>18</span><span>19</span><span>20</span><span>21</span><span>22</span><span>23</span><span>24</span><span>25</span><span>26</span><span>27</span><span>28</span><span>29</span><span>30</span><span>31</span></div>
<div class="days" style="top:967px"><span>1</span><span>2</span><span>3</span><span>4</span><span>5</span><span>6</span><span>7</span><span>8</span><span>9</span><span>10</span><span>11</span><span>12</span><span>13</span><span>14</span><span>15</span><span>16</span><span>17</span><span>18</span><span>19</span><span>20</span><span>21</span><span>22</span><span>23</span><span>24</span><span>25</span><span>26</span><span>27</span><span>28</span><span>29</span><span>30</span><span>31</span></div>
<div class="days" style="top:1147px"><span>1</span><span>2</span><span>3</span><span>4</span><span>5</span><span>6</span><span>7</span><span>8</span><span>9</span><span>10</span><span>11</span><span>12</span><span>13</span><span>14</span><span>15</span><span>16</span><span>17</span><span>18</span><span>19</span><span>20</span><span>21</span><span>22</span><span>23</span><span>24</span><span>25</span><span>26</span><span>27</span><span>28</span><span>29</span><span>30</span><span>31</span></div>
</body></html>
